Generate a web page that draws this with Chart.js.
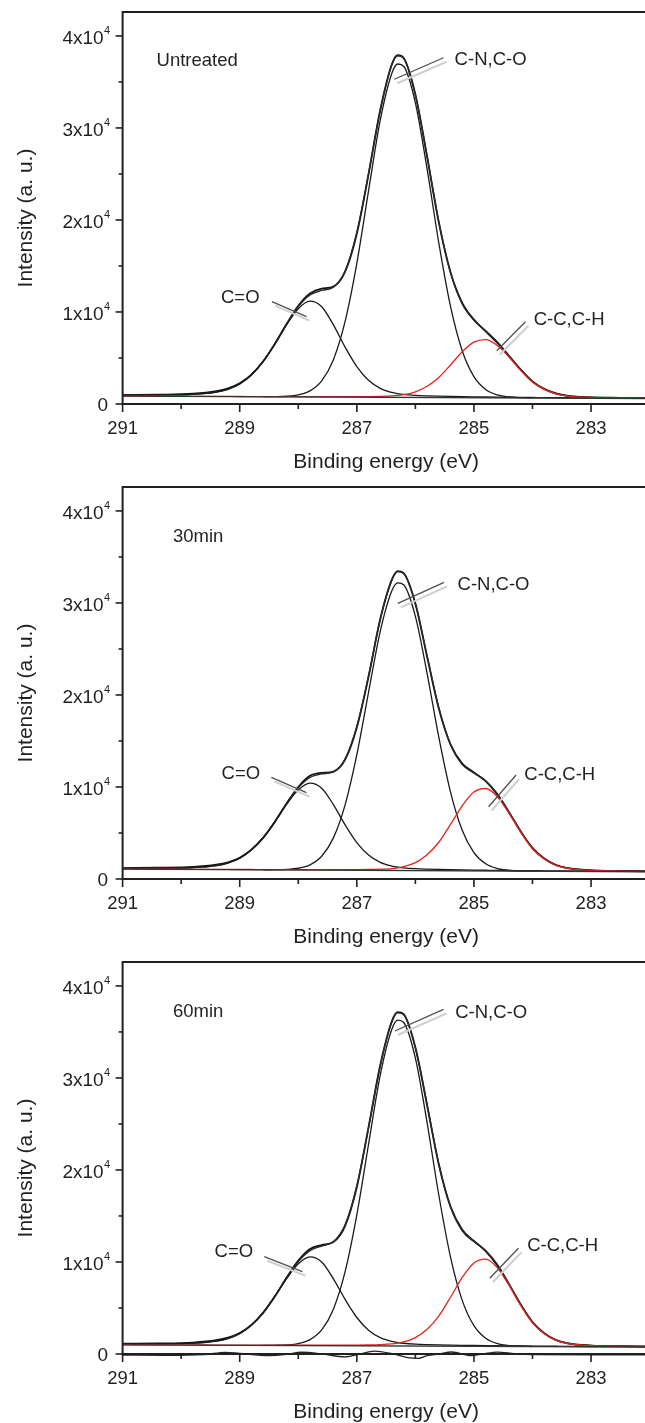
<!DOCTYPE html>
<html>
<head>
<meta charset="utf-8">
<title>C 1s spectra</title>
<script src="https://cdn.jsdelivr.net/npm/chart.js@4.4.1/dist/chart.umd.min.js"></script>
<style>
  html, body { margin: 0; padding: 0; background: #fff; overflow: hidden; }
  #wrap { position: relative; width: 645px; height: 1423px; overflow: hidden; }
  #wrap canvas { position: absolute; left: 0; }
</style>
</head>
<body>
<div id="wrap">
  <canvas id="untreated" width="660" height="474" style="top:0"></canvas>
  <canvas id="min30" width="660" height="474" style="top:475px"></canvas>
  <canvas id="min60" width="660" height="474" style="top:950px"></canvas>
</div>
<script>
// binding energy grid (eV) shared by the fitted curves
const energies = [291.0, 290.4, 289.8, 289.4, 289.2, 289.0, 288.8, 288.6, 288.4, 288.2,
  288.0, 287.8, 287.6, 287.4, 287.2, 287.0, 286.8, 286.6, 286.4, 286.3,
  286.2, 286.0, 285.8, 285.6, 285.4, 285.2, 285.0, 284.8, 284.6, 284.4,
  284.2, 284.0, 283.8, 283.6, 283.4, 283.0, 282.5, 282.0];

const bgEnergies = [291, 282];

// untreated
const rawUntreated = [977, 1014, 1117, 1388, 1687, 2248, 3189, 4615, 6506, 8675,
  10676, 12011, 12541, 12757, 14379, 18507, 24946, 31950, 36950, 37900,
  37600, 33650, 26888, 19731, 14324, 10993, 9163, 7903, 6641, 5208,
  3741, 2463, 1647, 1143, 890, 714, 672, 650];
const fitUntreated = [957, 984, 1057, 1298, 1607, 2188, 3169, 4645, 6566, 8695,
  10596, 11861, 12341, 12697, 14459, 18657, 25046, 31888, 36900, 37850,
  37560, 33568, 26948, 19831, 14274, 10873, 9103, 7963, 6741, 5248,
  3711, 2423, 1627, 1143, 900, 734, 682, 650];
const coUntreated = [951, 976, 1047, 1287, 1595, 2175, 3154, 4629, 6533, 8613,
  10359, 11178, 10566, 8600, 6185, 4062, 2575, 1697, 1250, 1126,
  1040, 940, 885, 848, 821, 797, 778, 760, 745, 732,
  719, 708, 697, 687, 678, 660, 641, 622];
const cnUntreated = [null, null, null, null, null, null, null, 791, 800, 840,
  990, 1425, 2510, 4820, 8980, 15290, 23150, 30840, 35970, 36950,
  36700, 32730, 25550, 17510, 10610, 5790, 2970, 1570, 980, 760,
  690, 660, null, null, null, null, null, null];
const ccUntreated = [867, 852, 836, 826, 821, 816, 812, 807, 804, 800,
  797, 794, 792, 791, 793, 792, 800, 822, 874, 931,
  1013, 1327, 1932, 2882, 4244, 5675, 6726, 6992, 6366, 5095,
  3633, 2373, 1582, 1102, 863, 703, 656, 628];
const bgUntreated = [861, 600];

// 30 min
const raw30 = [1188, 1220, 1304, 1552, 1821, 2318, 3190, 4469, 6201, 8200,
  10002, 11211, 11539, 11679, 12973, 16462, 21977, 28250, 32560, 33450,
  33250, 29950, 24162, 18528, 14630, 12550, 11588, 10635, 9172, 7229,
  5171, 3373, 2229, 1525, 1172, 945, 880, 850];
const fit30 = [1168, 1190, 1254, 1472, 1751, 2278, 3170, 4509, 6251, 8182,
  9902, 11031, 11419, 11639, 13053, 16582, 22037, 28200, 32500, 33400,
  33200, 29900, 24242, 18628, 14590, 12450, 11508, 10675, 9272, 7279,
  5141, 3333, 2209, 1525, 1182, 955, 887, 850];
const co30 = [1159, 1179, 1241, 1456, 1734, 2259, 3148, 4486, 6213, 8100,
  9685, 10427, 9871, 8084, 5890, 3961, 2611, 1812, 1405, 1292,
  1213, 1122, 1071, 1036, 1010, 987, 968, 952, 936, 924,
  910, 899, 889, 878, 868, 850, 830, 810];
const cn30 = [null, null, null, null, null, null, null, 1001, 1008, 1041,
  1167, 1543, 2475, 4470, 8060, 13505, 20284, 26915, 31346, 32191,
  31971, 28549, 22350, 15408, 9450, 5288, 2859, 1650, 1136, 945,
  879, 854, null, null, null, null, null, null];
const cc30 = [1087, 1070, 1053, 1043, 1037, 1033, 1030, 1024, 1020, 1017,
  1014, 1013, 1011, 1011, 1015, 1016, 1030, 1063, 1138, 1220,
  1337, 1785, 2645, 3994, 5928, 7959, 9453, 9833, 8946, 7144,
  5072, 3288, 2168, 1488, 1149, 927, 863, 830];
const bg30 = [1078, 790];

// 60 min
const raw60 = [1112, 1148, 1247, 1493, 1768, 2277, 3158, 4476, 6245, 8290,
  10141, 11407, 11840, 12160, 13920, 18153, 24630, 31380, 36180, 37140,
  36930, 33310, 27032, 20598, 16024, 13514, 12276, 11187, 9628, 7568,
  5374, 3473, 2266, 1525, 1154, 917, 850, 822];
const fit60 = [1092, 1118, 1187, 1413, 1698, 2237, 3148, 4516, 6295, 8271,
  10041, 11237, 11740, 12190, 14040, 18253, 24580, 31326, 36150, 37100,
  36900, 33280, 27132, 20678, 15964, 13394, 12216, 11247, 9728, 7608,
  5344, 3433, 2246, 1525, 1164, 927, 858, 822];
const co60 = [1083, 1107, 1173, 1396, 1680, 2217, 3125, 4491, 6254, 8181,
  9798, 10556, 9990, 8168, 5932, 3966, 2588, 1776, 1361, 1246,
  1167, 1075, 1023, 989, 964, 943, 924, 908, 894, 882,
  870, 860, 850, 841, 832, 816, 797, 780];
const cn60 = [null, null, null, null, null, null, null, 936, 945, 986,
  1129, 1557, 2615, 4875, 8944, 15111, 22789, 30300, 35319, 36277,
  36029, 32156, 25137, 17279, 10534, 5824, 3074, 1707, 1127, 913,
  840, 814, null, null, null, null, null, null];
const cc60 = [1009, 995, 982, 975, 970, 967, 965, 961, 958, 956,
  954, 954, 955, 955, 962, 964, 979, 1016, 1096, 1184,
  1309, 1783, 2694, 4122, 6168, 8319, 9898, 10302, 9365, 7461,
  5272, 3387, 2204, 1487, 1130, 898, 834, 802];
const bg60 = [1000, 760];

// fit residual, 60 min only
const residEnergies = [291, 290.3, 289.6, 289.25, 289.0, 288.5, 288.2, 287.95, 287.6, 287.2,
  286.95, 286.7, 286.4, 286.1, 285.95, 285.8, 285.6, 285.38, 285.05, 284.85,
  284.6, 284.3, 284.0, 283.0, 282.0];
const resid60 = [-120, -150, -60, 180, 60, -170, -40, 190, 20, -320,
  0, 320, 40, -430, -480, -180, 0, 220, -170, 0,
  210, 20, -60, -80, -100];

// axes
const xMajorTicks = [291, 289, 287, 285, 283];
const xMinorTicks = [290, 288, 286, 284, 282];
const yMajorTicks = [0, 10000, 20000, 30000, 40000];
const yMinorTicks = [5000, 15000, 25000, 35000];
const yTickMantissa = ['0', '1x10', '2x10', '3x10', '4x10'];
const yTickExponent = ['', '4', '4', '4', '4'];

// peak labels: text anchor, leader line start/end, all in (eV, counts)
const notesUntreated = [
  { text: 'C-N,C-O', at: [285.33, 36840], from: [285.52, 37630], to: [286.36, 35290] },
  { text: 'C=O', at: [289.32, 10975], from: [288.45, 11117], to: [287.86, 9487] },
  { text: 'C-C,C-H', at: [283.98, 8585], from: [284.12, 8943], to: [284.61, 5792] }
];
const notes30 = [
  { text: 'C-N,C-O', at: [285.28, 31405], from: [285.51, 32243], to: [286.30, 29961] },
  { text: 'C=O', at: [289.31, 10867], from: [288.46, 11052], to: [287.86, 9378] },
  { text: 'C-C,C-H', at: [284.14, 10758], from: [284.28, 11302], to: [284.75, 7857] }
];
const notes60 = [
  { text: 'C-N,C-O', at: [285.32, 36513], from: [285.52, 37460], to: [286.35, 35102] },
  { text: 'C=O', at: [289.43, 10487], from: [288.58, 10573], to: [287.93, 8944] },
  { text: 'C-C,C-H', at: [284.09, 11193], from: [284.24, 11486], to: [284.73, 8226] }
];

const FONT = '"Liberation Sans", Arial, Helvetica, sans-serif';
const INK = '#231f20';

const pts = (xs, ys) => xs.map((x, i) => ({ x, y: ys[i] }));

function line(data, color, width, extra = {}) {
  return {
    data,
    borderColor: color,
    borderWidth: width,
    pointRadius: 0,
    fill: false,
    spanGaps: false,
    cubicInterpolationMode: 'monotone',
    ...extra
  };
}

const decor = {
  id: 'decor',
  afterDraw(chart, args, opts) {
    const { ctx, chartArea: a, scales: { x, y } } = chart;
    ctx.save();
    ctx.strokeStyle = INK;
    ctx.fillStyle = INK;

    // frame
    ctx.lineWidth = 2;
    ctx.strokeRect(a.left, a.top, a.right - a.left, a.bottom - a.top);

    // x ticks and labels
    ctx.lineWidth = 1.6;
    ctx.font = `18.5px ${FONT}`;
    ctx.textAlign = 'center';
    ctx.textBaseline = 'alphabetic';
    xMajorTicks.forEach((e) => {
      const px = x.getPixelForValue(e);
      ctx.beginPath(); ctx.moveTo(px, a.bottom); ctx.lineTo(px, a.bottom + 8); ctx.stroke();
      ctx.fillText(String(e), px, a.bottom + 29.5);
    });
    xMinorTicks.forEach((e) => {
      const px = x.getPixelForValue(e);
      ctx.beginPath(); ctx.moveTo(px, a.bottom); ctx.lineTo(px, a.bottom + 5); ctx.stroke();
    });

    // y ticks and labels with superscript exponent
    yMajorTicks.forEach((v, i) => {
      const py = y.getPixelForValue(v);
      ctx.beginPath(); ctx.moveTo(a.left - 7, py); ctx.lineTo(a.left, py); ctx.stroke();
      ctx.font = `19px ${FONT}`;
      ctx.textAlign = 'right';
      if (yTickExponent[i]) {
        ctx.fillText(yTickMantissa[i], a.left - 19, py + 8);
        ctx.font = `11px ${FONT}`;
        ctx.textAlign = 'left';
        ctx.fillText(yTickExponent[i], a.left - 18.5, py - 2);
      } else {
        ctx.fillText(yTickMantissa[i], a.left - 14.5, py + 7);
      }
    });
    yMinorTicks.forEach((v) => {
      const py = y.getPixelForValue(v);
      ctx.beginPath(); ctx.moveTo(a.left - 4, py); ctx.lineTo(a.left, py); ctx.stroke();
    });

    // axis titles
    ctx.font = `21px ${FONT}`;
    ctx.textAlign = 'center';
    ctx.fillText('Binding energy (eV)', (a.left + a.right) / 2, a.bottom + 63.7);
    ctx.save();
    ctx.translate(31.5, 218);
    ctx.rotate(-Math.PI / 2);
    ctx.fillText('Intensity (a. u.)', 0, 0);
    ctx.restore();

    // sample tag
    ctx.font = `18.5px ${FONT}`;
    ctx.textAlign = 'left';
    ctx.fillText(opts.tag, x.getPixelForValue(opts.tagAt[0]), y.getPixelForValue(opts.tagAt[1]));

    // peak labels with shaded leader lines
    opts.notes.forEach((n) => {
      const x1 = x.getPixelForValue(n.from[0]), y1 = y.getPixelForValue(n.from[1]);
      const x2 = x.getPixelForValue(n.to[0]), y2 = y.getPixelForValue(n.to[1]);
      ctx.strokeStyle = '#cfcfcf';
      ctx.lineWidth = 2;
      ctx.beginPath(); ctx.moveTo(x1 + 3, y1 + 4); ctx.lineTo(x2 + 3, y2 + 4); ctx.stroke();
      ctx.strokeStyle = '#505050';
      ctx.lineWidth = 1.3;
      ctx.beginPath(); ctx.moveTo(x1, y1); ctx.lineTo(x2, y2); ctx.stroke();
      ctx.fillText(n.text, x.getPixelForValue(n.at[0]), y.getPixelForValue(n.at[1]));
    });
    ctx.restore();
  }
};

function drawPanel(id, tag, tagAt, s, notes) {
  const datasets = [
    line(pts(bgEnergies, s.bg), '#333', 1.3),
    line(pts(energies, s.cc), '#e3231d', 1.3),
    line(pts(energies, s.co), '#1a1a1a', 1.3),
    line(pts(energies, s.cn), '#1a1a1a', 1.3),
    line(pts(energies, s.fit), '#2a2a2a', 1.4),
    line(pts(energies, s.raw), '#111', 1.8)
  ];
  if (s.resid) {
    datasets.push(line(pts(residEnergies, s.resid), '#222', 1.3, { clip: false }));
  }
  new Chart(document.getElementById(id), {
    type: 'line',
    data: { datasets },
    options: {
      responsive: false,
      devicePixelRatio: 1,
      animation: false,
      events: [],
      layout: { padding: { left: 122.6, top: 12, right: 10.4, bottom: 70 } },
      scales: {
        x: { type: 'linear', reverse: true, min: 282, max: 291, display: false },
        y: { type: 'linear', min: 0, max: 42600, display: false }
      },
      plugins: {
        legend: { display: false },
        tooltip: { enabled: false },
        decor: { tag, tagAt, notes }
      }
    },
    plugins: [decor]
  });
}

drawPanel('untreated', 'Untreated', [290.42, 36730],
  { bg: bgUntreated, co: coUntreated, cn: cnUntreated, cc: ccUntreated, fit: fitUntreated, raw: rawUntreated },
  notesUntreated);
drawPanel('min30', '30min', [290.14, 36676],
  { bg: bg30, co: co30, cn: cn30, cc: cc30, fit: fit30, raw: raw30 },
  notes30);
drawPanel('min60', '60min', [290.14, 36676],
  { bg: bg60, co: co60, cn: cn60, cc: cc60, fit: fit60, raw: raw60, resid: resid60 },
  notes60);
</script>
</body>
</html>
